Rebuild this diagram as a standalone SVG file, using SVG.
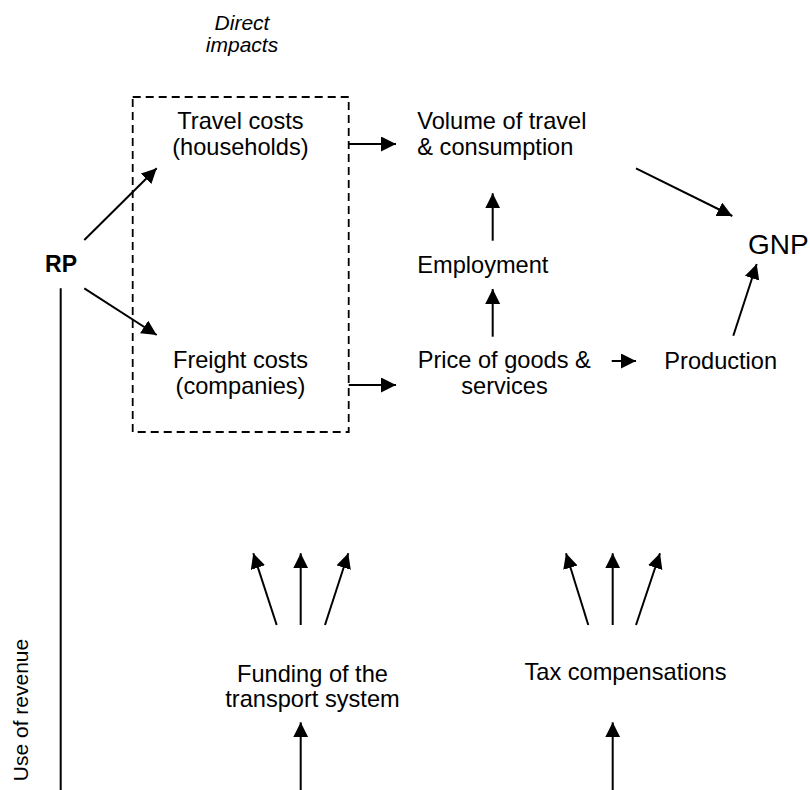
<svg xmlns="http://www.w3.org/2000/svg" width="810" height="790" viewBox="0 0 810 790">
<style>
  text { font-family: "Liberation Sans", Arial, sans-serif; fill: #000; }
  .t { font-size: 23.6px; }
  .it { font-size: 21px; font-style: italic; }
  .b { font-size: 23px; font-weight: bold; }
  .gnp { font-size: 28px; }
  .rev { font-size: 21px; }
  .c { text-anchor: middle; }
  .ln { stroke: #000; stroke-width: 2; fill: none; }
  .ar { stroke: #000; stroke-width: 2; fill: none; marker-end: url(#ah); }
  .dash { stroke: #000; stroke-width: 1.8; fill: none; stroke-dasharray: 8 5; }
</style>
<defs>
  <marker id="ah" markerUnits="userSpaceOnUse" markerWidth="16" markerHeight="16" refX="15" refY="7.5" orient="auto">
    <path d="M0,0 L15,7.5 L0,15 z" fill="#000"/>
  </marker>
</defs>
<rect width="810" height="790" fill="#fff"/>

<g id="direct-impacts">
  <rect class="dash" x="132.7" y="97" width="216" height="335"/>
  <text class="it c" x="242" y="30">Direct</text>
  <text class="it c" x="242" y="52">impacts</text>
</g>
<g id="rp"><text class="b c" x="61" y="272">RP</text></g>
<g id="travel-costs">
  <text class="t c" x="240.4" y="129.3">Travel costs</text>
  <text class="t c" x="240.4" y="155">(households)</text>
</g>
<g id="freight-costs">
  <text class="t c" x="240.5" y="368.3">Freight costs</text>
  <text class="t c" x="240.5" y="394">(companies)</text>
</g>
<g id="volume">
  <text class="t" x="417.3" y="129.3">Volume of travel</text>
  <text class="t" x="417.3" y="155">&amp; consumption</text>
</g>
<g id="employment"><text class="t" x="417.3" y="272.7">Employment</text></g>
<g id="price">
  <text class="t" x="417.7" y="368.3">Price of goods &amp;</text>
  <text class="t c" x="504.5" y="394">services</text>
</g>
<g id="production"><text class="t" x="664.3" y="368.5">Production</text></g>
<g id="gnp"><text class="gnp" x="748" y="254">GNP</text></g>
<g id="funding">
  <text class="t c" x="312.5" y="681.7">Funding of the</text>
  <text class="t c" x="312.5" y="706.7">transport system</text>
</g>
<g id="tax"><text class="t c" x="625.5" y="680">Tax compensations</text></g>
<g id="use-of-revenue"><text class="rev c" transform="translate(28.3,710) rotate(-90)">Use of revenue</text></g>

<g id="connectors">
  <line class="ar" x1="84.3" y1="240" x2="156.7" y2="168.3"/>
  <line class="ar" x1="84.3" y1="288.3" x2="156.7" y2="335"/>
  <line class="ln" x1="60.7" y1="288.3" x2="60.7" y2="790"/>
  <line class="ar" x1="348.7" y1="144" x2="396" y2="144"/>
  <line class="ar" x1="348.7" y1="385" x2="396" y2="385"/>
  <line class="ar" x1="492.7" y1="240.7" x2="492.7" y2="193.3"/>
  <line class="ar" x1="492.7" y1="336.7" x2="492.7" y2="289"/>
  <line class="ar" x1="611.7" y1="361" x2="636" y2="361"/>
  <line class="ar" x1="636" y1="168.3" x2="732.3" y2="216"/>
  <line class="ar" x1="733.3" y1="335.7" x2="756.7" y2="264"/>
  <line class="ar" x1="276.7" y1="625" x2="253.3" y2="553.3"/>
  <line class="ar" x1="300.7" y1="625" x2="300.7" y2="553.3"/>
  <line class="ar" x1="325" y1="625" x2="348.3" y2="553.3"/>
  <line class="ar" x1="588.3" y1="625" x2="566" y2="553.3"/>
  <line class="ar" x1="612.7" y1="625" x2="612.7" y2="553.3"/>
  <line class="ar" x1="636" y1="625" x2="660" y2="553.3"/>
  <line class="ar" x1="300.7" y1="790" x2="300.7" y2="722.3"/>
  <line class="ar" x1="612.7" y1="790" x2="612.7" y2="722.3"/>
</g>
</svg>
